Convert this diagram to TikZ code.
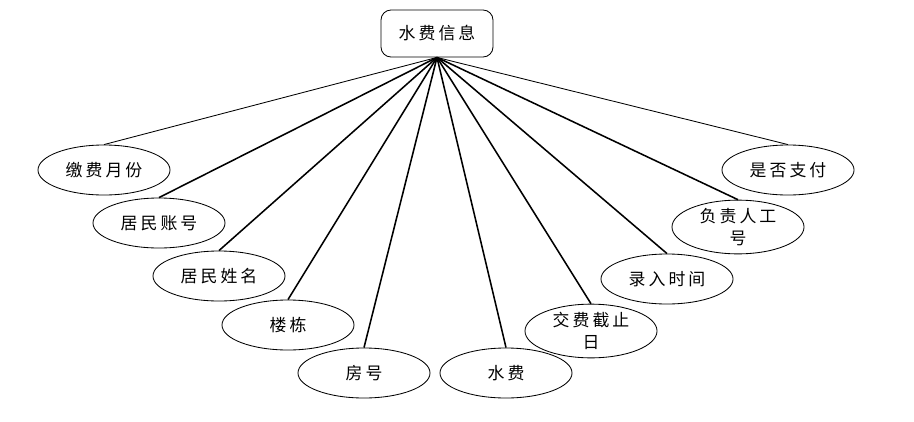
\documentclass[tikz,border=0pt]{standalone}
\usepackage{fontspec}
\setmainfont[LetterSpace=18]{Noto Sans CJK SC}
\usepackage{tikz}
\usetikzlibrary{shapes.geometric}

\begin{document}
\begin{tikzpicture}[
  x=0.025cm, y=-0.025cm,
  entity/.style={draw, rounded corners=0.25cm, minimum width=2.8cm, minimum height=1.175cm, inner sep=0pt, line width=0.6pt, font=\fontsize{12}{16}\selectfont},
  attr/.style={draw, ellipse, minimum width=3.3cm, minimum height=1.25cm, inner sep=0pt, align=center, line width=0.6pt, font=\fontsize{12}{16}\selectfont},
  link/.style={line width=1.1pt},
  thinlink/.style={line width=0.6pt}
]
\useasboundingbox (0,0) rectangle (914,421);

\node[entity] (info) at (437, 33.5) {水费信息};

\node[attr] (month) at (104, 170) {缴费月份};
\node[attr] (account) at (159, 223) {居民账号};
\node[attr] (name) at (219, 276) {居民姓名};
\node[attr] (building) at (288, 325) {楼栋};
\node[attr] (room) at (364, 373) {房号};
\node[attr] (fee) at (506, 373) {水费};
\node[attr] (deadline) at (591, 331) {交费截止\\日};
\node[attr] (entry) at (667, 279) {录入时间};
\node[attr] (staff) at (738, 227) {负责人工\\号};
\node[attr] (paid) at (788, 170) {是否支付};

\draw[thinlink] (info.south) -- (month.north);
\draw[link] (info.south) -- (account.north);
\draw[link] (info.south) -- (name.north);
\draw[link] (info.south) -- (building.north);
\draw[link] (info.south) -- (room.north);
\draw[link] (info.south) -- (fee.north);
\draw[link] (info.south) -- (deadline.north);
\draw[link] (info.south) -- (entry.north);
\draw[link] (info.south) -- (staff.north);
\draw[thinlink] (info.south) -- (paid.north);
\end{tikzpicture}
\end{document}
